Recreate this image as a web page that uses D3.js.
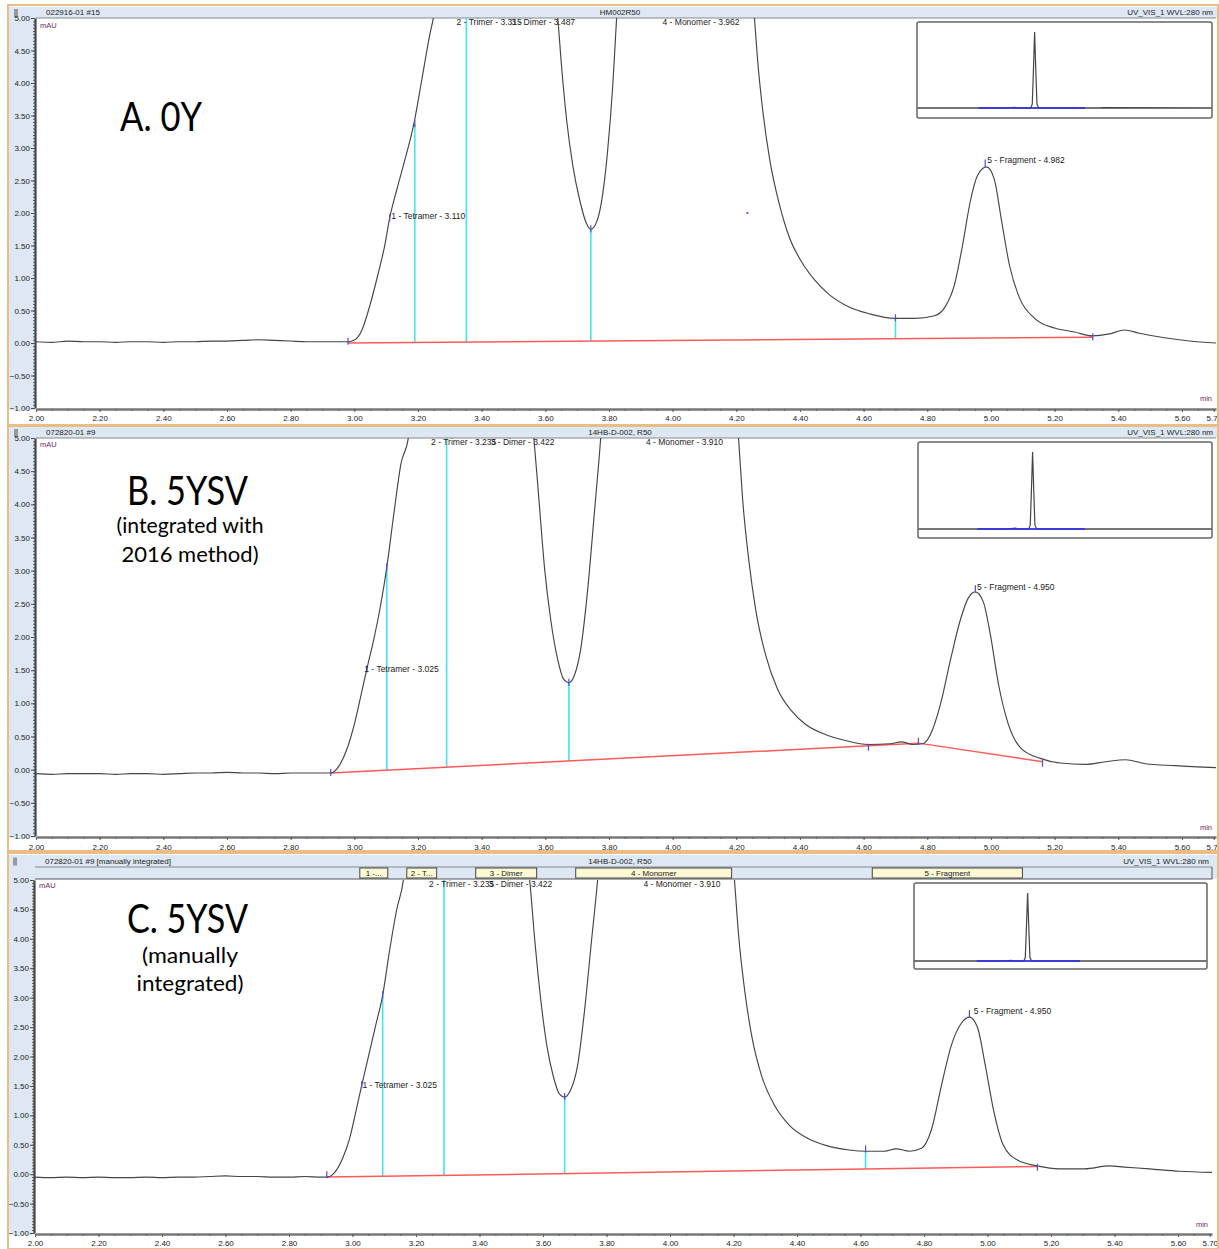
<!DOCTYPE html>
<html><head><meta charset="utf-8">
<script src="https://cdn.jsdelivr.net/npm/d3@7"></script>
<style>body{margin:0;background:#fff}svg{display:block}</style>
</head><body>
<svg id="chart" width="1219" height="1249"></svg>
<script>
// ---------------- DATA ----------------
const xTickValues = [2.0,2.2,2.4,2.6,2.8,3.0,3.2,3.4,3.6,3.8,4.0,4.2,4.4,4.6,4.8,5.0,5.2,5.4,5.6,5.7];
const yTickValues = [-1.0,-0.5,0.0,0.5,1.0,1.5,2.0,2.5,3.0,3.5,4.0,4.5,5.0];

const headerLeft = ["022916-01 #15", "072820-01 #9", "072820-01 #9 [manually integrated]"];
const headerCenter = ["HM002R50", "14HB-D-002, R50", "14HB-D-002, R50"];
const headerRight = ["UV_VIS_1 WVL:280 nm", "UV_VIS_1 WVL:280 nm", "UV_VIS_1 WVL:280 nm"];

const bigTitles = ["A. 0Y", "B. 5YSV", "C. 5YSV"];
const subTitles = [[], ["(integrated with", "2016 method)"], ["(manually", "integrated)"]];

// chromatogram traces [retention time (min), signal (mAU)]
const traceA = [
 [2.00,0.02],[2.05,0.01],[2.10,0.03],[2.15,0.02],[2.20,0.02],[2.25,0.01],[2.30,0.02],[2.35,0.02],[2.40,0.01],[2.45,0.02],[2.50,0.02],
 [2.55,0.03],[2.60,0.03],[2.65,0.04],[2.70,0.05],[2.75,0.04],[2.80,0.03],[2.85,0.02],[2.90,0.02],[2.95,0.02],[2.98,0.02],
 [3.002,0.05],[3.024,0.20],[3.049,0.58],[3.074,1.05],[3.096,1.51],[3.111,1.92],[3.133,2.35],[3.159,2.82],[3.187,3.37],
 [3.212,4.05],[3.237,4.74],[3.25,5.05],[3.28,6.5],[3.32,8.0],[3.40,9.0],[3.49,11.0],[3.57,8.0],[3.61,6.0],
 [3.639,5.0],[3.652,4.2],[3.667,3.43],[3.686,2.74],[3.708,2.20],[3.730,1.83],[3.743,1.75],[3.761,1.86],[3.780,2.28],
 [3.796,2.97],[3.812,3.97],[3.824,5.0],[3.85,7.0],[3.96,30.0],[4.10,12.0],[4.22,6.5],
 [4.257,5.0],[4.267,4.35],[4.283,3.58],[4.305,2.82],[4.336,2.12],[4.367,1.62],[4.405,1.25],[4.446,0.97],[4.493,0.74],
 [4.556,0.55],[4.618,0.45],[4.697,0.38],[4.760,0.38],[4.823,0.42],[4.854,0.54],[4.885,0.89],[4.911,1.51],[4.936,2.20],
 [4.958,2.58],[4.986,2.71],[5.011,2.51],[5.033,1.89],[5.058,1.20],[5.090,0.69],[5.137,0.38],[5.200,0.23],[5.262,0.17],
 [5.319,0.11],[5.372,0.14],[5.419,0.20],[5.466,0.15],[5.545,0.08],[5.623,0.03],[5.707,0.00]
];
const traceB = [
 [2.00,-0.06],[2.05,-0.07],[2.10,-0.06],[2.15,-0.06],[2.20,-0.06],[2.25,-0.07],[2.30,-0.06],[2.35,-0.06],[2.40,-0.07],[2.45,-0.06],
 [2.50,-0.05],[2.55,-0.05],[2.60,-0.04],[2.65,-0.05],[2.70,-0.05],[2.75,-0.06],[2.80,-0.05],[2.85,-0.05],[2.90,-0.05],
 [2.926,-0.05],[2.951,0.05],[2.976,0.30],[3.002,0.72],[3.020,1.10],[3.039,1.51],[3.061,1.96],[3.083,2.49],[3.102,3.05],
 [3.124,3.85],[3.146,4.60],[3.171,5.04],[3.20,7.0],[3.24,9.0],[3.35,9.0],[3.42,11.0],[3.50,8.0],[3.54,6.0],
 [3.564,5.0],[3.580,4.07],[3.598,3.02],[3.617,2.26],[3.639,1.66],[3.658,1.36],[3.674,1.31],[3.692,1.43],[3.711,1.81],
 [3.733,2.71],[3.755,3.92],[3.774,5.0],[3.80,7.0],[3.91,30.0],[4.05,12.0],[4.18,6.5],
 [4.207,5.0],[4.220,4.07],[4.239,3.17],[4.261,2.41],[4.292,1.73],[4.330,1.21],[4.371,0.90],[4.418,0.68],[4.480,0.53],
 [4.543,0.44],[4.615,0.38],[4.684,0.39],[4.719,0.42],[4.754,0.38],[4.785,0.39],[4.810,0.53],[4.841,0.98],[4.873,1.66],
 [4.904,2.26],[4.929,2.59],[4.951,2.68],[4.976,2.53],[4.998,2.04],[5.024,1.28],[5.055,0.68],[5.093,0.33],[5.155,0.17],
 [5.218,0.10],[5.297,0.08],[5.360,0.12],[5.423,0.15],[5.485,0.09],[5.579,0.06],[5.707,0.03]
];
const traceC = [
 [2.00,-0.05],[2.05,-0.06],[2.10,-0.05],[2.15,-0.06],[2.20,-0.05],[2.25,-0.06],[2.30,-0.06],[2.35,-0.05],[2.40,-0.06],[2.45,-0.05],
 [2.50,-0.05],[2.55,-0.04],[2.60,-0.03],[2.65,-0.04],[2.70,-0.04],[2.75,-0.05],[2.80,-0.05],[2.85,-0.04],[2.90,-0.05],
 [2.919,-0.05],[2.944,0.03],[2.969,0.27],[2.991,0.61],[3.010,1.05],[3.029,1.51],[3.051,2.02],[3.073,2.53],[3.095,3.04],
 [3.117,3.81],[3.139,4.49],[3.161,5.03],[3.19,7.0],[3.23,9.0],[3.34,9.0],[3.42,11.0],[3.50,8.0],[3.53,6.0],
 [3.558,5.0],[3.574,3.98],[3.593,2.96],[3.612,2.19],[3.634,1.63],[3.652,1.36],[3.668,1.31],[3.687,1.43],[3.709,1.85],
 [3.731,2.79],[3.753,3.98],[3.772,5.0],[3.80,7.0],[3.91,30.0],[4.05,12.0],[4.18,6.5],
 [4.203,5.0],[4.216,4.06],[4.235,3.13],[4.257,2.36],[4.288,1.68],[4.329,1.17],[4.376,0.83],[4.433,0.61],[4.496,0.48],
 [4.565,0.41],[4.616,0.39],[4.675,0.39],[4.713,0.43],[4.754,0.39],[4.792,0.44],[4.823,0.75],[4.855,1.51],[4.886,2.19],
 [4.918,2.57],[4.943,2.67],[4.968,2.50],[4.993,1.85],[5.019,1.09],[5.050,0.49],[5.094,0.24],[5.157,0.14],[5.226,0.09],
 [5.305,0.09],[5.384,0.14],[5.431,0.12],[5.510,0.09],[5.604,0.05],[5.707,0.03]
];

// integration baselines (red)
const baselineA = [[2.98,0.00],[5.32,0.09]];
const baselineB = [[2.926,-0.05],[4.615,0.36],[4.772,0.40],[5.162,0.12]];
const baselineC = [[2.919,-0.05],[5.157,0.13]];

// peak delimiters (cyan drop lines): [time, top signal]
const dropsA = [[3.19,3.37],[3.352,9.0],[3.743,1.75],[4.70,0.38]];
const dropsB = [[3.102,3.05],[3.29,9.0],[3.674,1.31]];
const dropsC = [[3.095,3.04],[3.288,9.0],[3.668,1.31],[4.616,0.39]];

// blue integration marks [time, signal]
const marksA = [[2.98,0.02],[3.111,1.92],[3.19,3.37],[3.743,1.75],[4.70,0.38],[5.32,0.09],[4.982,2.76]];
const marksB = [[2.926,-0.05],[3.039,1.51],[3.102,3.05],[3.674,1.31],[4.615,0.33],[4.772,0.42],[5.162,0.09],[4.951,2.72]];
const marksC = [[2.919,-0.02],[3.029,1.51],[3.095,3.04],[3.668,1.31],[4.616,0.42],[5.157,0.11],[4.943,2.72]];
const strayDotA = [[4.235,2.00]];

// peak labels: name, retention time, label signal level
const peaksA = [
 {name:"1 - Tetramer - 3.110", t:3.110, v:1.94},
 {name:"2 - Trimer - 3.315", t:3.315, v:4.92},
 {name:"3 - Dimer - 3.487", t:3.487, v:4.92},
 {name:"4 - Monomer - 3.962", t:3.962, v:4.92},
 {name:"5 - Fragment  - 4.982", t:4.982, v:2.80}
];
const peaksB = [
 {name:"1 - Tetramer - 3.025", t:3.025, v:1.51},
 {name:"2 - Trimer - 3.235", t:3.235, v:4.93},
 {name:"3 - Dimer - 3.422", t:3.422, v:4.93},
 {name:"4 - Monomer - 3.910", t:3.910, v:4.93},
 {name:"5 - Fragment - 4.950", t:4.950, v:2.75}
];
const peaksC = [
 {name:"1 - Tetramer - 3.025", t:3.025, v:1.51},
 {name:"2 - Trimer - 3.235", t:3.235, v:4.92},
 {name:"3 - Dimer - 3.422", t:3.422, v:4.92},
 {name:"4 - Monomer - 3.910", t:3.910, v:4.92},
 {name:"5 - Fragment - 4.950", t:4.950, v:2.76}
];

// peak windows shown in panel C header bar
const windowsC = [
 {name:"1 -...", t0:3.023, t1:3.111},
 {name:"2 - T...", t0:3.171, t1:3.265},
 {name:"3 - Dimer", t0:3.388, t1:3.580},
 {name:"4 - Monomer", t0:3.703, t1:4.194},
 {name:"5 - Fragment", t0:4.637, t1:5.110}
];

// overview insets (full run, 0–10 min, relative signal)
const insetA = [[0,0],[3.0,0],[3.3,0.01],[3.4,0],[3.85,0],[3.90,0.05],[3.94,0.5],[3.98,1.0],[4.02,0.5],[4.06,0.05],[4.12,0],[6.2,0],[6.3,0.005],[10,0]];
const insetB = [[0,0],[3.0,0],[3.3,0.01],[3.4,0],[3.76,0],[3.81,0.05],[3.85,0.5],[3.89,1.0],[3.93,0.5],[3.97,0.05],[4.03,0],[10,0]];
const insetC = [[0,0],[3.0,0],[3.3,0.01],[3.4,0],[3.74,0],[3.79,0.05],[3.83,0.5],[3.87,1.0],[3.91,0.5],[3.95,0.05],[4.01,0],[10,0]];
const insetIntA = [2.07, 5.70];
const insetIntB = [2.00, 5.68];
const insetIntC = [2.12, 5.67];

// ---------------- LAYOUT ----------------
const layout = [
 {box:[8,5,1218,425], head:[7,18], bar2:null, plot:{l:36,r:1216,t:18,b:408}, xlab:419,
  inset:{x0:917,y0:22,x1:1212,y1:118,base:108}, title:{x:120,y:131,w:82}, subs:[], mau:28, minY:401,
  trace:traceA, base:baselineA, drops:dropsA, marks:marksA, peaks:peaksA, ins:insetA, insInt:insetIntA},
 {box:[8,426,1218,851], head:[427,438], bar2:null, plot:{l:36,r:1216,t:438,b:836}, xlab:848,
  inset:{x0:918,y0:442,x1:1212,y1:538,base:529}, title:{x:127,y:505,w:121}, subs:[{y:533,w:147},{y:562,w:137}], mau:447, minY:830,
  trace:traceB, base:baselineB, drops:dropsB, marks:marksB, peaks:peaksB, ins:insetB, insInt:insetIntB},
 {box:[8,853,1218,1249], head:[855,867], bar2:[867,879], plot:{l:35,r:1212,t:880,b:1233}, xlab:1244,
  inset:{x0:914,y0:883,x1:1207,y1:969,base:961}, title:{x:127,y:933,w:121}, subs:[{y:963,w:96},{y:991,w:107}], mau:888, minY:1227,
  trace:traceC, base:baselineC, drops:dropsC, marks:marksC, peaks:peaksC, ins:insetC, insInt:insetIntC}
];

const svg = d3.select("#chart");
const SMALL = "'Liberation Sans', Arial, sans-serif";
const BIG = "Lato, 'Open Sans', sans-serif";
const headBlue = "#dde8f4";
const tan = "#e9bd86";

layout.forEach((L, i) => {
  const g = svg.append("g");
  const P = L.plot;
  const x = d3.scaleLinear().domain([2, 5.707]).range([P.l, P.r]);
  const y = d3.scaleLinear().domain([-1, 5]).range([P.b, P.t]);

  // panel border
  g.append("rect").attr("x", L.box[0]).attr("y", L.box[1]).attr("width", L.box[2]-L.box[0]).attr("height", L.box[3]-L.box[1])
    .attr("fill", "#fff").attr("stroke", tan).attr("stroke-width", 2);
  // left blue strip
  g.append("rect").attr("x", L.box[0]+1).attr("y", L.head[0]).attr("width", P.l - L.box[0] - 1).attr("height", P.b - L.head[0] + 2)
    .attr("fill", headBlue);
  // header bar
  const hb = L.bar2 ? L.bar2[1] : L.head[1];
  g.append("rect").attr("x", L.box[0]+1).attr("y", L.head[0]).attr("width", L.box[2]-L.box[0]-2).attr("height", hb - L.head[0])
    .attr("fill", headBlue);
  g.append("line").attr("x1", P.l).attr("x2", P.r).attr("y1", L.head[1]).attr("y2", L.head[1]).attr("stroke", "#888").attr("stroke-width", 1);
  if (L.bar2) {
    g.append("line").attr("x1", P.l).attr("x2", P.r).attr("y1", L.bar2[1]).attr("y2", L.bar2[1]).attr("stroke", "#555").attr("stroke-width", 1.2);
    g.append("line").attr("x1", P.r).attr("x2", P.r).attr("y1", L.bar2[0]).attr("y2", L.bar2[1]).attr("stroke", "#555").attr("stroke-width", 1);
  }
  // header texts
  const hy = (L.head[0] + L.head[1]) / 2 + 0.5;
  g.append("rect").attr("x", P.l - 22).attr("y", hy - 4).attr("width", 4).attr("height", 8).attr("fill", "#999");
  g.append("text").attr("x", P.l + 10).attr("y", hy).attr("dominant-baseline", "middle")
    .attr("font-family", SMALL).attr("font-size", 8).attr("fill", "#222").text(headerLeft[i]);
  g.append("text").attr("x", 620).attr("y", hy).attr("dominant-baseline", "middle").attr("text-anchor", "middle")
    .attr("font-family", SMALL).attr("font-size", 8).attr("fill", "#222").text(headerCenter[i]);
  g.append("text").attr("x", P.r - 3).attr("y", hy).attr("dominant-baseline", "middle").attr("text-anchor", "end")
    .attr("font-family", SMALL).attr("font-size", 8).attr("fill", "#222").text(headerRight[i]);

  // peak window boxes (panel C)
  if (L.bar2 && i === 2) {
    const wb = g.append("g");
    windowsC.forEach(w => {
      wb.append("rect").attr("x", x(w.t0)).attr("y", L.bar2[0] + 1).attr("width", x(w.t1) - x(w.t0)).attr("height", L.bar2[1] - L.bar2[0] - 2)
        .attr("fill", "#fcf9d4").attr("stroke", "#444").attr("stroke-width", 1);
      wb.append("text").attr("x", (x(w.t0) + x(w.t1)) / 2).attr("y", (L.bar2[0] + L.bar2[1]) / 2 + 0.5)
        .attr("text-anchor", "middle").attr("dominant-baseline", "middle")
        .attr("font-family", SMALL).attr("font-size", 8).attr("fill", "#222").text(w.name);
    });
  }

  // clip
  const cid = "clip" + i;
  svg.append("clipPath").attr("id", cid).append("rect").attr("x", P.l).attr("y", P.t).attr("width", P.r - P.l).attr("height", P.b - P.t);
  const pg = g.append("g").attr("clip-path", `url(#${cid})`);

  // baseline interpolation
  const baseScale = d3.scaleLinear().domain(L.base.map(d => d[0])).range(L.base.map(d => d[1])).clamp(true);

  // cyan drops
  pg.selectAll(".drop").data(L.drops).join("line")
    .attr("x1", d => x(d[0])).attr("x2", d => x(d[0]))
    .attr("y1", d => y(baseScale(d[0]))).attr("y2", d => y(d[1]))
    .attr("stroke", "#3fe6ef").attr("stroke-width", 1.6);

  // red baseline
  pg.append("path").datum(L.base)
    .attr("d", d3.line().x(d => x(d[0])).y(d => y(d[1])))
    .attr("fill", "none").attr("stroke", "#ff5a5a").attr("stroke-width", 1.5);

  // trace
  pg.append("path").datum(L.trace)
    .attr("d", d3.line().x(d => x(d[0])).y(d => y(d[1])).curve(d3.curveMonotoneX))
    .attr("fill", "none").attr("stroke", "#454545").attr("stroke-width", 1.15);

  // blue marks
  pg.selectAll(".mk").data(L.marks).join("line")
    .attr("x1", d => x(d[0])).attr("x2", d => x(d[0]))
    .attr("y1", d => y(d[1]) - 4).attr("y2", d => y(d[1]) + 3)
    .attr("stroke", "#4b4bf0").attr("stroke-width", 1.2);
  if (i === 0) {
    pg.selectAll(".dot").data(strayDotA).join("circle")
      .attr("cx", d => x(d[0])).attr("cy", d => y(d[1])).attr("r", 1.1).attr("fill", "#4b4bf0");
  }

  // peak labels
  pg.selectAll(".pl").data(L.peaks).join("text")
    .attr("x", d => x(d.t) + 2).attr("y", d => y(d.v)).attr("dominant-baseline", "middle")
    .attr("font-family", SMALL).attr("font-size", 8.5).attr("fill", "#222").text(d => d.name);

  // axes
  const yAxis = d3.axisLeft(y).tickValues(yTickValues).tickFormat(d3.format(".2f")).tickSize(4).tickSizeOuter(0);
  const ya = g.append("g").attr("transform", `translate(${P.l - 1},0)`).call(yAxis);
  ya.select(".domain").attr("stroke", "#444").attr("stroke-width", 2.2);
  ya.selectAll(".tick line").attr("stroke", "#444");
  ya.selectAll("text").attr("font-family", SMALL).attr("font-size", 8).attr("fill", "#222").attr("x", -5);
  const yMinor = d3.range(-20, 101).map(k => k * 0.05);
  const ym = g.append("g").attr("transform", `translate(${P.l - 1},0)`)
    .call(d3.axisLeft(y).tickValues(yMinor).tickFormat("").tickSize(2).tickSizeOuter(0));
  ym.select(".domain").remove();
  ym.selectAll(".tick line").attr("stroke", "#555");

  const xAxis = d3.axisBottom(x).tickValues(xTickValues).tickFormat(d3.format(".2f")).tickSize(3).tickSizeOuter(0);
  const xa = g.append("g").attr("transform", `translate(0,${P.b + 1})`).call(xAxis);
  xa.select(".domain").attr("stroke", "#777").attr("stroke-width", 2.5);
  xa.selectAll(".tick line").attr("stroke", "#555");
  xa.selectAll(".tick text").attr("font-family", SMALL).attr("font-size", 8).attr("fill", "#222")
    .attr("y", L.xlab - P.b - 1).attr("dominant-baseline", "middle").attr("dy", 0);
  const xMinor = d3.range(40, 115).map(k => k * 0.05).filter(v => v <= 5.707);
  const xm = g.append("g").attr("transform", `translate(0,${P.b + 1})`)
    .call(d3.axisBottom(x).tickValues(xMinor).tickFormat("").tickSize(2).tickSizeOuter(0));
  xm.select(".domain").remove();
  xm.selectAll(".tick line").attr("stroke", "#666");

  // right border cover so clipped labels stay inside
  g.append("rect").attr("x", L.box[2] - 1).attr("y", L.box[1]).attr("width", 1219 - L.box[2] + 1).attr("height", L.box[3] - L.box[1]).attr("fill", "#fff");
  g.append("line").attr("x1", L.box[2]).attr("x2", L.box[2]).attr("y1", L.box[1]).attr("y2", L.box[3]).attr("stroke", tan).attr("stroke-width", 2);

  // units
  g.append("text").attr("x", P.l + 4).attr("y", L.mau).attr("font-family", SMALL).attr("font-size", 7.5).attr("fill", "#6d2a63").text("mAU");
  g.append("text").attr("x", P.r - 4).attr("y", L.minY).attr("text-anchor", "end").attr("font-family", SMALL).attr("font-size", 7.5).attr("fill", "#6d2a63").text("min");

  // inset overview
  const I = L.inset;
  const ix = d3.scaleLinear().domain([0, 10]).range([I.x0 + 1, I.x1 - 1]);
  const iy = d3.scaleLinear().domain([0, 1]).range([I.base, I.y0 + 10]);
  g.append("rect").attr("x", I.x0).attr("y", I.y0).attr("width", I.x1 - I.x0).attr("height", I.y1 - I.y0).attr("rx", 2)
    .attr("fill", "#fff").attr("stroke", "#666").attr("stroke-width", 1.5);
  g.append("line").attr("x1", I.x0).attr("x2", I.x1).attr("y1", I.base).attr("y2", I.base).attr("stroke", "#555").attr("stroke-width", 1.2);
  g.append("path").datum(L.ins).attr("d", d3.line().x(d => ix(d[0])).y(d => iy(d[1])))
    .attr("fill", "none").attr("stroke", "#444").attr("stroke-width", 1.2);
  g.append("line").attr("x1", ix(L.insInt[0])).attr("x2", ix(L.insInt[1])).attr("y1", I.base).attr("y2", I.base)
    .attr("stroke", "#2a2af5").attr("stroke-width", 1.6);

  // big titles
  g.append("text").attr("x", L.title.x).attr("y", L.title.y).attr("font-family", BIG).attr("font-size", 40)
    .attr("textLength", L.title.w).attr("lengthAdjust", "spacingAndGlyphs").attr("fill", "#000").text(bigTitles[i]);
  subTitles[i].forEach((s, k) => {
    const sp = L.subs[k];
    g.append("text").attr("x", 190 - sp.w / 2).attr("y", sp.y).attr("font-family", BIG).attr("font-size", 21)
      .attr("textLength", sp.w).attr("lengthAdjust", "spacingAndGlyphs").attr("fill", "#000").text(s);
  });
});
</script>
</body></html>
